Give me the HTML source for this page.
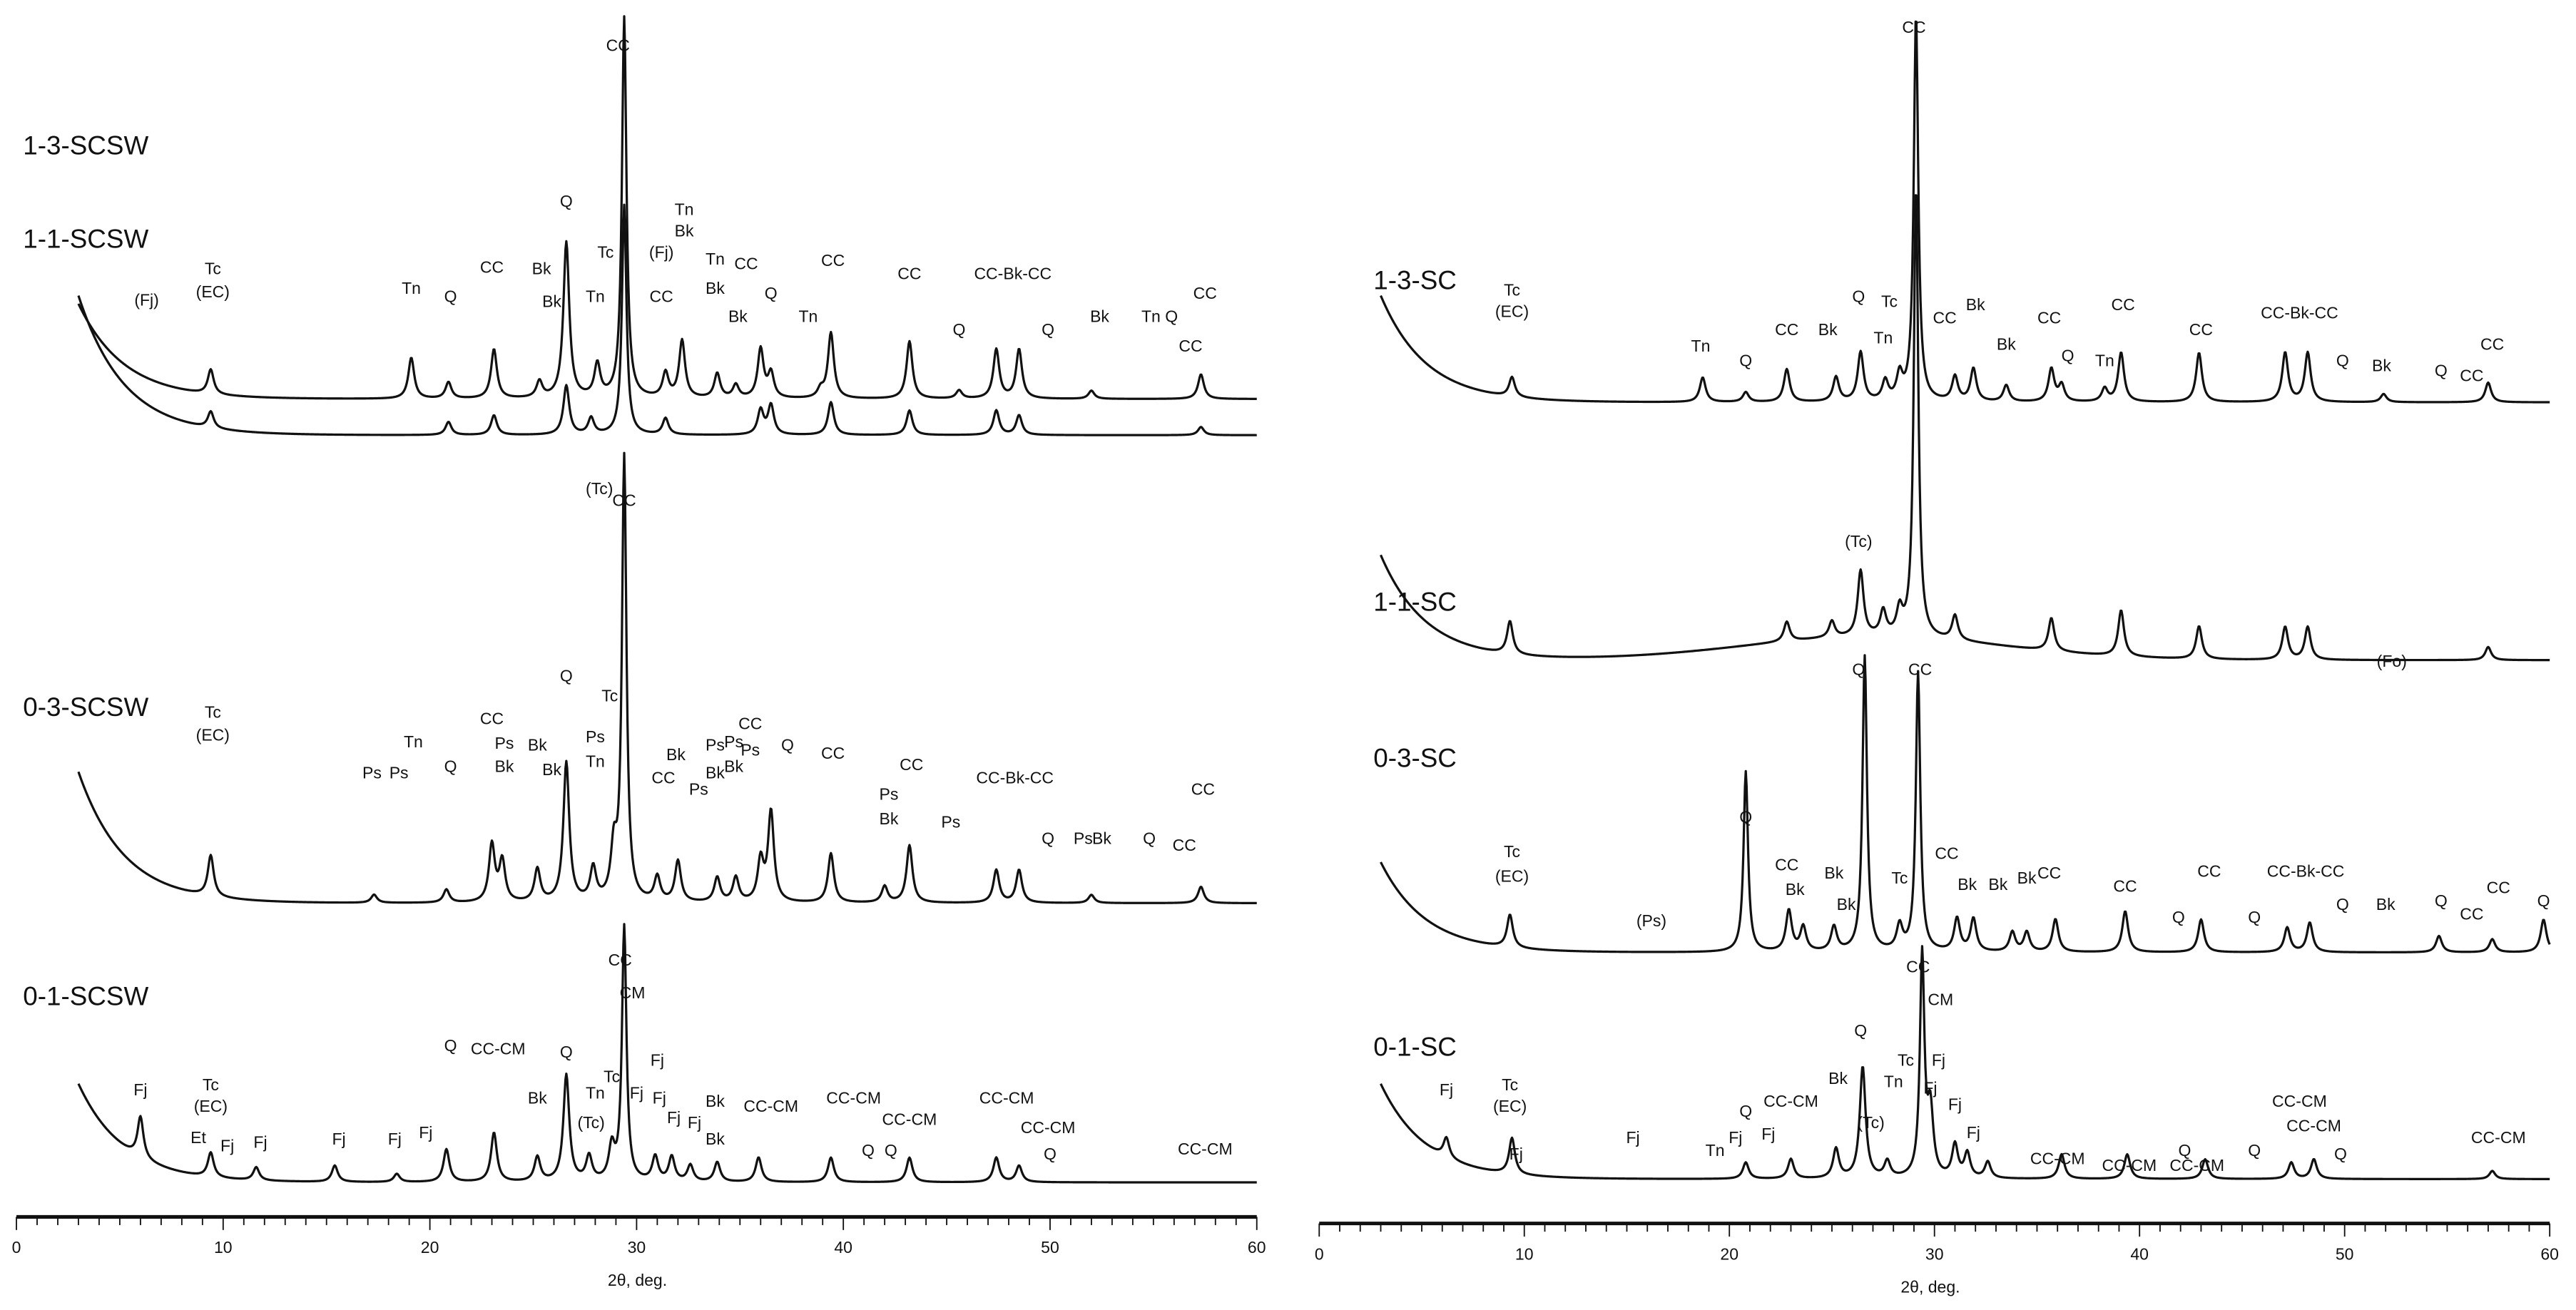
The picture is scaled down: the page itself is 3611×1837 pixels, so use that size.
<!DOCTYPE html>
<html><head><meta charset="utf-8"><style>
html,body{margin:0;padding:0;background:#fff;}
svg{display:block;}
text{font-family:"Liberation Sans",sans-serif;fill:#111;}
</style></head><body>
<svg id="chart" width="3611" height="1837" viewBox="0 0 1568 797.7" preserveAspectRatio="none" xmlns="http://www.w3.org/2000/svg"></svg>
<script>
// ---- data ----
const xTicks = [0,10,20,30,40,50,60];
const leftNames = ["1-3-SCSW","1-1-SCSW","0-3-SCSW","0-1-SCSW"];
const rightNames = ["1-3-SC","1-1-SC","0-3-SC","0-1-SC"];
// baseline: [start y at 3deg, flat baseline y]
const L13base=[185,243], L11base=[180,265], L03base=[470,550], L01base=[660,720];
const R13base=[180,245], R11base=[338,402], R03base=[525,580], R01base=[660,718];
// peaks: [2theta, height]
const L13peaks=[[9.4,15],[19.1,25],[20.9,10],[23.1,30],[25.3,10],[26.6,95],[28.1,20],[29.4,232],[31.4,15],[32.2,35],[33.9,15],[34.8,8],[36,30],[36.5,15],[38.9,5],[39.4,40],[43.2,35],[45.6,5],[47.4,30],[48.5,30],[52,5],[57.3,15]];
const L11peaks=[[9.4,10],[20.9,8],[23.1,12],[26.6,30],[27.8,10],[29.4,140],[31.4,10],[36,15],[36.5,18],[39.4,20],[43.2,15],[47.4,15],[48.5,12],[57.3,5]];
const L03peaks=[[9.4,25],[17.3,5],[20.8,8],[23,35],[23.5,25],[25.2,20],[26.6,85],[27.9,20],[28.9,30],[29.4,270],[31,15],[32,25],[33.9,15],[34.8,15],[36,25],[36.5,55],[39.4,30],[42,10],[43.2,35],[47.4,20],[48.5,20],[52,5],[57.3,10]];
const L01peaks=[[6,25],[9.4,15],[11.6,8],[15.4,10],[18.4,5],[20.8,20],[23.1,30],[25.2,15],[26.6,65],[27.7,15],[28.8,20],[29.4,155],[30.9,15],[31.7,15],[32.6,10],[33.9,12],[35.9,15],[39.4,15],[43.2,15],[47.4,15],[48.5,10]];
const R13peaks=[[9.4,12],[18.7,15],[20.8,6],[22.8,20],[25.2,15],[26.4,30],[27.6,12],[28.3,15],[29.1,236],[31,15],[31.9,20],[33.5,10],[35.7,20],[36.2,10],[38.3,8],[39.1,30],[42.9,30],[47.1,30],[48.2,30],[51.9,5],[57,12]];
const R11peaks=[[9.3,20],[22.8,12],[25,10],[26.4,40],[27.5,15],[28.3,15],[29.1,275],[31,15],[35.7,20],[39.1,28],[42.9,20],[47.1,20],[48.2,20],[57,8]];
const R03peaks=[[9.3,20],[20.8,110],[22.9,25],[23.6,15],[25.1,15],[26.6,180],[28.3,15],[29.2,170],[31.1,20],[31.9,20],[33.8,12],[34.5,12],[35.9,20],[39.3,25],[43,20],[47.2,15],[48.3,18],[54.6,10],[57.2,8],[59.7,20]];
const R01peaks=[[6.2,12],[9.4,22],[20.8,10],[23,12],[25.2,18],[26.5,68],[27.7,10],[29.4,135],[29.8,40],[31,20],[31.6,15],[32.6,10],[36.2,15],[39.4,15],[43.2,12],[47.4,10],[48.5,12],[57.2,5]];
// broad humps [center, height, width]
const R11hump=[[27,14,9]];
// labels: [2theta, y, text]
const leftLabels=[[6.3,182,"(Fj)"],[9.5,163,"Tc"],[9.5,177,"(EC)"],[19.1,175,"Tn"],[21,180,"Q"],[23,162,"CC"],[25.4,163,"Bk"],[25.9,183,"Bk"],[26.6,122,"Q"],[29.1,27,"CC"],[28.5,153,"Tc"],[28,180,"Tn"],[31.2,153,"(Fj)"],[32.3,127,"Tn"],[32.3,140,"Bk"],[31.2,180,"CC"],[33.8,157,"Tn"],[33.8,175,"Bk"],[35.3,160,"CC"],[34.9,192,"Bk"],[36.5,178,"Q"],[38.3,192,"Tn"],[39.5,158,"CC"],[43.2,166,"CC"],[45.6,200,"Q"],[48.2,166,"CC-Bk-CC"],[49.9,200,"Q"],[52.4,192,"Bk"],[55.3,192,"Tn Q"],[56.8,210,"CC"],[57.5,178,"CC"],
[28.2,297,"(Tc)"],
[29.4,304,"CC"],[26.6,411,"Q"],[9.5,433,"Tc"],[9.5,447,"(EC)"],[19.2,451,"Tn"],[17.2,470,"Ps"],[18.5,470,"Ps"],[21,466,"Q"],[23,437,"CC"],[23.6,452,"Ps"],[23.6,466,"Bk"],[25.2,453,"Bk"],[25.9,468,"Bk"],[28.7,423,"Tc"],[28,448,"Ps"],[28,463,"Tn"],[31.9,459,"Bk"],[31.3,473,"CC"],[33,480,"Ps"],[33.8,453,"Ps"],[33.8,470,"Bk"],[34.7,451,"Ps"],[34.7,466,"Bk"],[35.5,440,"CC"],[35.5,456,"Ps"],[37.3,453,"Q"],[39.5,458,"CC"],[43.3,465,"CC"],[42.2,483,"Ps"],[42.2,498,"Bk"],[45.2,500,"Ps"],[48.3,473,"CC-Bk-CC"],[49.9,510,"Q"],[51.6,510,"Ps"],[52.5,510,"Bk"],[54.8,510,"Q"],[56.5,514,"CC"],[57.4,480,"CC"],
[29.2,584,"CC"],[29.8,604,"CM"],[26.6,640,"Q"],[31,645,"Fj"],[28.8,655,"Tc"],[28,665,"Tn"],[30,665,"Fj"],[31.1,668,"Fj"],[31.8,680,"Fj"],[27.8,683,"(Tc)"],[23.3,638,"CC-CM"],[21,636,"Q"],[25.2,668,"Bk"],[6,663,"Fj"],[9.4,660,"Tc"],[9.4,673,"(EC)"],[8.8,692,"Et"],[10.2,697,"Fj"],[11.8,695,"Fj"],[15.6,693,"Fj"],[18.3,693,"Fj"],[19.8,689,"Fj"],[33.8,670,"Bk"],[33.8,693,"Bk"],[32.8,683,"Fj"],[36.5,673,"CC-CM"],[40.5,668,"CC-CM"],[41.2,700,"Q"],[42.3,700,"Q"],[43.2,681,"CC-CM"],[47.9,668,"CC-CM"],[49.9,686,"CC-CM"],[50,702,"Q"],[57.5,699,"CC-CM"]];
const rightLabels=[[29,16,"CC"],[9.4,176,"Tc"],[9.4,189,"(EC)"],[18.6,210,"Tn"],[20.8,219,"Q"],[22.8,200,"CC"],[24.8,200,"Bk"],[26.3,180,"Q"],[27.8,183,"Tc"],[27.5,205,"Tn"],[30.5,193,"CC"],[32,185,"Bk"],[33.5,209,"Bk"],[35.6,193,"CC"],[36.5,216,"Q"],[38.3,219,"Tn"],[39.2,185,"CC"],[43,200,"CC"],[47.8,190,"CC-Bk-CC"],[49.9,219,"Q"],[51.8,222,"Bk"],[54.7,225,"Q"],[56.2,228,"CC"],[57.2,209,"CC"],
[26.3,329,"(Tc)"],[52.3,402,"(Fo)"],
[26.3,407,"Q"],[29.3,407,"CC"],[20.8,497,"Q"],[9.4,518,"Tc"],[9.4,533,"(EC)"],[16.2,560,"(Ps)"],[22.8,526,"CC"],[23.2,541,"Bk"],[25.1,531,"Bk"],[25.7,550,"Bk"],[28.3,534,"Tc"],[30.6,519,"CC"],[31.6,538,"Bk"],[33.1,538,"Bk"],[34.5,534,"Bk"],[35.6,531,"CC"],[39.3,539,"CC"],[41.9,558,"Q"],[43.4,530,"CC"],[45.6,558,"Q"],[48.1,530,"CC-Bk-CC"],[49.9,550,"Q"],[52,550,"Bk"],[54.7,548,"Q"],[56.2,556,"CC"],[57.5,540,"CC"],[59.7,548,"Q"],
[29.2,588,"CC"],[30.3,608,"CM"],[26.4,627,"Q"],[28.6,645,"Tc"],[28,658,"Tn"],[30.2,645,"Fj"],[29.8,662,"Fj"],[31,672,"Fj"],[31.9,689,"Fj"],[26.9,683,"(Tc)"],[25.3,656,"Bk"],[23,670,"CC-CM"],[21.9,690,"Fj"],[20.8,676,"Q"],[20.3,692,"Fj"],[19.3,700,"Tn"],[15.3,692,"Fj"],[6.2,663,"Fj"],[9.3,660,"Tc"],[9.3,673,"(EC)"],[9.6,702,"Fj"],[36,705,"CC-CM"],[39.5,709,"CC-CM"],[42.8,709,"CC-CM"],[42.2,700,"Q"],[45.6,700,"Q"],[47.8,670,"CC-CM"],[48.5,685,"CC-CM"],[49.8,702,"Q"],[57.5,692,"CC-CM"]];

// ---- drawing ----
const NS="http://www.w3.org/2000/svg";
const svg=document.getElementById('chart');
function mk(tag,attrs,parent){const e=document.createElementNS(NS,tag);for(const k in attrs)e.setAttribute(k,attrs[k]);(parent||svg).appendChild(e);return e;}
const panels=[
 {x0:10,x1:765,axisY:741,names:leftNames,nameY:[94,151,436,612],nameX:14,titleX:388,
  series:[[L13base,L13peaks,[]],[L11base,L11peaks,[]],[L03base,L03peaks,[]],[L01base,L01peaks,[]]],labels:leftLabels,id:'left'},
 {x0:803,x1:1552,axisY:745,names:rightNames,nameY:[176,372,467,643],nameX:836,titleX:1175,
  series:[[R13base,R13peaks,[]],[R11base,R11peaks,R11hump],[R03base,R03peaks,[]],[R01base,R01peaks,[]]],labels:rightLabels,id:'right'}];
panels.forEach(p=>{
  const g=mk('g',{});
  
  
  const sx=v=>p.x0+(v/60)*(p.x1-p.x0);
  const ax=mk('line',{x1:p.x0,y1:p.axisY,x2:p.x1,y2:p.axisY,stroke:'#111','stroke-width':2.2},g);
  
  
  for(let t=0;t<=60;t++){
    const major=t%10===0;
    const tk=mk('line',{x1:sx(t),y1:p.axisY,x2:sx(t),y2:p.axisY+(major?8:5),stroke:'#111','stroke-width':0.8},g);
    
    
  }
  xTicks.forEach(t=>{
    const tl=mk('text',{x:sx(t),y:p.axisY+22,'text-anchor':'middle','font-size':10},g);
    tl.textContent=t;
    
    
  });
  const tt=mk('text',{x:p.titleX,y:p.axisY+42,'text-anchor':'middle','font-size':10},g);
  tt.textContent='2θ, deg.';
  
  
  p.series.forEach((s,i)=>{
    const base=s[0],peaks=s[1],humps=s[2];
    let d='';
    for(let x=3;x<=60.001;x+=0.04){
      let y=base[1]+(base[0]-base[1])*Math.exp(-(x-3)/2.2);
      humps.forEach(h=>{y-=h[1]*Math.exp(-Math.pow((x-h[0])/h[2],2));});
      peaks.forEach(pk=>{const w=pk[1]>100?0.13:0.17;y-=pk[1]/(1+Math.pow((x-pk[0])/w,2));});
      d+=(d?'L':'M')+sx(x).toFixed(2)+','+y.toFixed(2);
    }
    const path=mk('path',{d:d,fill:'none',stroke:'#111','stroke-width':1.4,'stroke-linejoin':'round'},g);
    
    
    const nm=mk('text',{x:p.nameX,y:p.nameY[i],'font-size':16},g);
    nm.textContent=p.names[i];
    
    
  });
  p.labels.forEach(l=>{
    const t=mk('text',{x:sx(l[0]),y:l[1]+4,'text-anchor':'middle','font-size':10},g);
    t.textContent=l[2];
    
    
  });
});
</script>
</body></html>
